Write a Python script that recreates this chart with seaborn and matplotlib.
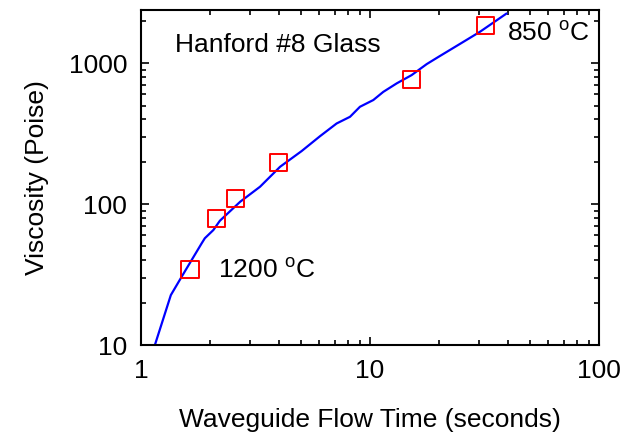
import pandas as pd
import matplotlib
matplotlib.use("Agg")
import matplotlib.pyplot as plt
import seaborn as sns

# curve
flow_time = [1.15, 1.35, 1.505, 1.84, 1.90, 2.07, 2.21, 2.71, 3.31, 4.05, 5.03, 6.05,
             7.15, 8.18, 9.04, 10.34, 11.43, 13.08, 15.2, 17.69, 20, 25, 30.2, 39.5]
viscosity = [10, 22.6, 30.5, 52.6, 57.2, 65.4, 76.1, 103.8, 132.7, 183.9, 237.7, 303,
             373, 416, 490, 547, 625, 718, 822, 984, 1112, 1384, 1667, 2250]

# measured points (squares)
meas_time = [1.637, 2.14, 2.59, 4.0, 15.2, 32.0]
meas_visc = [34.6, 79.2, 109, 196, 771, 1841]

curve = pd.DataFrame({"t": flow_time, "v": viscosity})
pts = pd.DataFrame({"t": meas_time, "v": meas_visc})

sns.set_style("ticks")
plt.rcParams["font.family"] = ["Liberation Sans", "DejaVu Sans"]
plt.rcParams["text.color"] = "black"
plt.rcParams["axes.labelcolor"] = "black"
plt.rcParams["xtick.color"] = "black"
plt.rcParams["ytick.color"] = "black"
plt.rcParams["axes.edgecolor"] = "black"

fig = plt.figure(figsize=(6.2, 4.38), dpi=100)
ax = fig.add_axes([0.2274, 0.2123, 0.7387, 0.7648])

sns.lineplot(data=curve, x="t", y="v", color="#0000ff", linewidth=1.6, ax=ax)
sns.scatterplot(data=pts, x="t", y="v", marker="s", s=150, facecolor="none",
                edgecolor="#ff0000", linewidth=1.4, zorder=3, ax=ax)

ax.set_xscale("log")
ax.set_yscale("log")
ax.set_xlim(1, 100)
ax.set_ylim(10, 2380)
ax.set_xticks([1, 10, 100])
ax.set_xticklabels(["1", "10", "100"])
ax.set_yticks([10, 100, 1000])
ax.set_yticklabels(["10", "100", "1000"])

for s in ax.spines.values():
    s.set_linewidth(1.5)
    s.set_visible(True)
ax.tick_params(which="both", direction="in", top=True, right=True, width=1.2, labelsize=19)
ax.tick_params(which="major", length=6, pad=10)
ax.tick_params(which="minor", length=3.5)

ax.set_xlabel("Waveguide Flow Time (seconds)", fontsize=19, labelpad=18)
ax.set_ylabel("Viscosity (Poise)", fontsize=19, labelpad=14)

ax.text(0.074, 0.896, "Hanford #8 Glass", transform=ax.transAxes, fontsize=19, va="center")
ax.text(0.80, 0.93, r"850 $^\mathregular{o}$C", transform=ax.transAxes, fontsize=19, va="center")
ax.text(0.168, 0.224, r"1200 $^\mathregular{o}$C", transform=ax.transAxes, fontsize=19, va="center")

fig.savefig("out.png", dpi=100)
